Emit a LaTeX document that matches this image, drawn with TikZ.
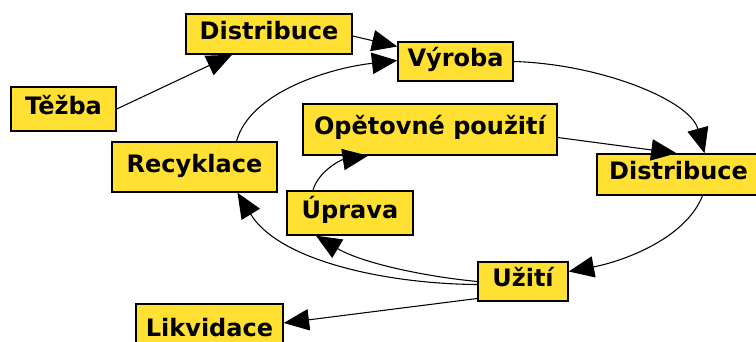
\documentclass[tikz,border=0pt]{standalone}
\usepackage{fontspec}
\setmainfont{DejaVu Sans}
\usetikzlibrary{arrows.meta,calc}
\definecolor{boxyellow}{RGB}{255,224,51}
\tikzset{
  box/.style={draw=black, line width=1.1pt, fill=boxyellow, inner sep=2pt,
    font=\bfseries\fontsize{18}{20}\selectfont, text height=13pt, text depth=5pt},
  conn/.style={line width=0.8pt, -{Triangle[length=19pt,width=16pt]}}
}
\begin{document}
\begin{tikzpicture}[x=0.75pt,y=-0.75pt]
\clip (0,0) rectangle (756,342);
\fill[white] (0,0) rectangle (756,342);
% nodes
\node[box, minimum width=124.5pt, minimum height=30pt] (dist1) at (269,34) {Distribuce};
\node[box, minimum width=78.75pt, minimum height=33pt] (tezba) at (63.5,109) {Těžba};
\node[box, minimum width=86.25pt, minimum height=29.25pt] (vyroba) at (455.5,61.5) {Výroba};
\node[box, minimum width=190.5pt, minimum height=38.25pt] (opet) at (430,129.5) {Opětovné použití};
\node[box, minimum width=122.25pt, minimum height=30.75pt] (distR) at (678.5,174.5) {Distribuce};
\node[box, minimum width=123.75pt, minimum height=37.5pt] (recyk) at (194.5,167) {Recyklace};
\node[box, minimum width=94.5pt, minimum height=33pt] (upr) at (350,213) {Úprava};
\node[box, minimum width=67.5pt, minimum height=29.25pt] (uziti) at (523,281.5) {Užití};
\node[box, minimum width=110.25pt, minimum height=40.5pt] (likv) at (209.5,331) {Likvidace};
% connectors
\draw[conn] (tezba.east) -- ($(dist1.south)+(-37,0)$);
\draw[conn] ($(dist1.east)+(0,2)$) -- ($(vyroba.west)+(0,-15)$);
\draw[conn] ($(recyk.north)+(42,0)$) .. controls (250,92) and (330,68) .. ($(vyroba.west)+(0,-1)$);
\draw[conn] (vyroba.east) .. controls (600,64) and (690,100) .. ($(distR.north)+(26,0)$);
\draw[conn] ($(opet.east)+(0,8)$) -- ($(distR.north)+(-2,0)$);
\draw[conn] ($(distR.south)+(24,0)$) .. controls (685,240) and (620,262) .. ($(uziti.east)+(0,-10)$);
\draw[conn] (uziti.west) .. controls (420,276) and (360,262) .. ($(upr.south)+(-34,0)$);
\draw[conn] ($(uziti.west)+(0,3)$) .. controls (390,284) and (280,262) .. ($(recyk.south)+(43,0)$);
\draw[conn] ($(uziti.west)+(0,17)$) -- ($(likv.east)+(0,-8)$);
\draw[conn] ($(upr.north)+(-37,0)$) .. controls (318,172) and (340,160) .. ($(opet.south)+(-62,0)$);
\end{tikzpicture}
\end{document}
